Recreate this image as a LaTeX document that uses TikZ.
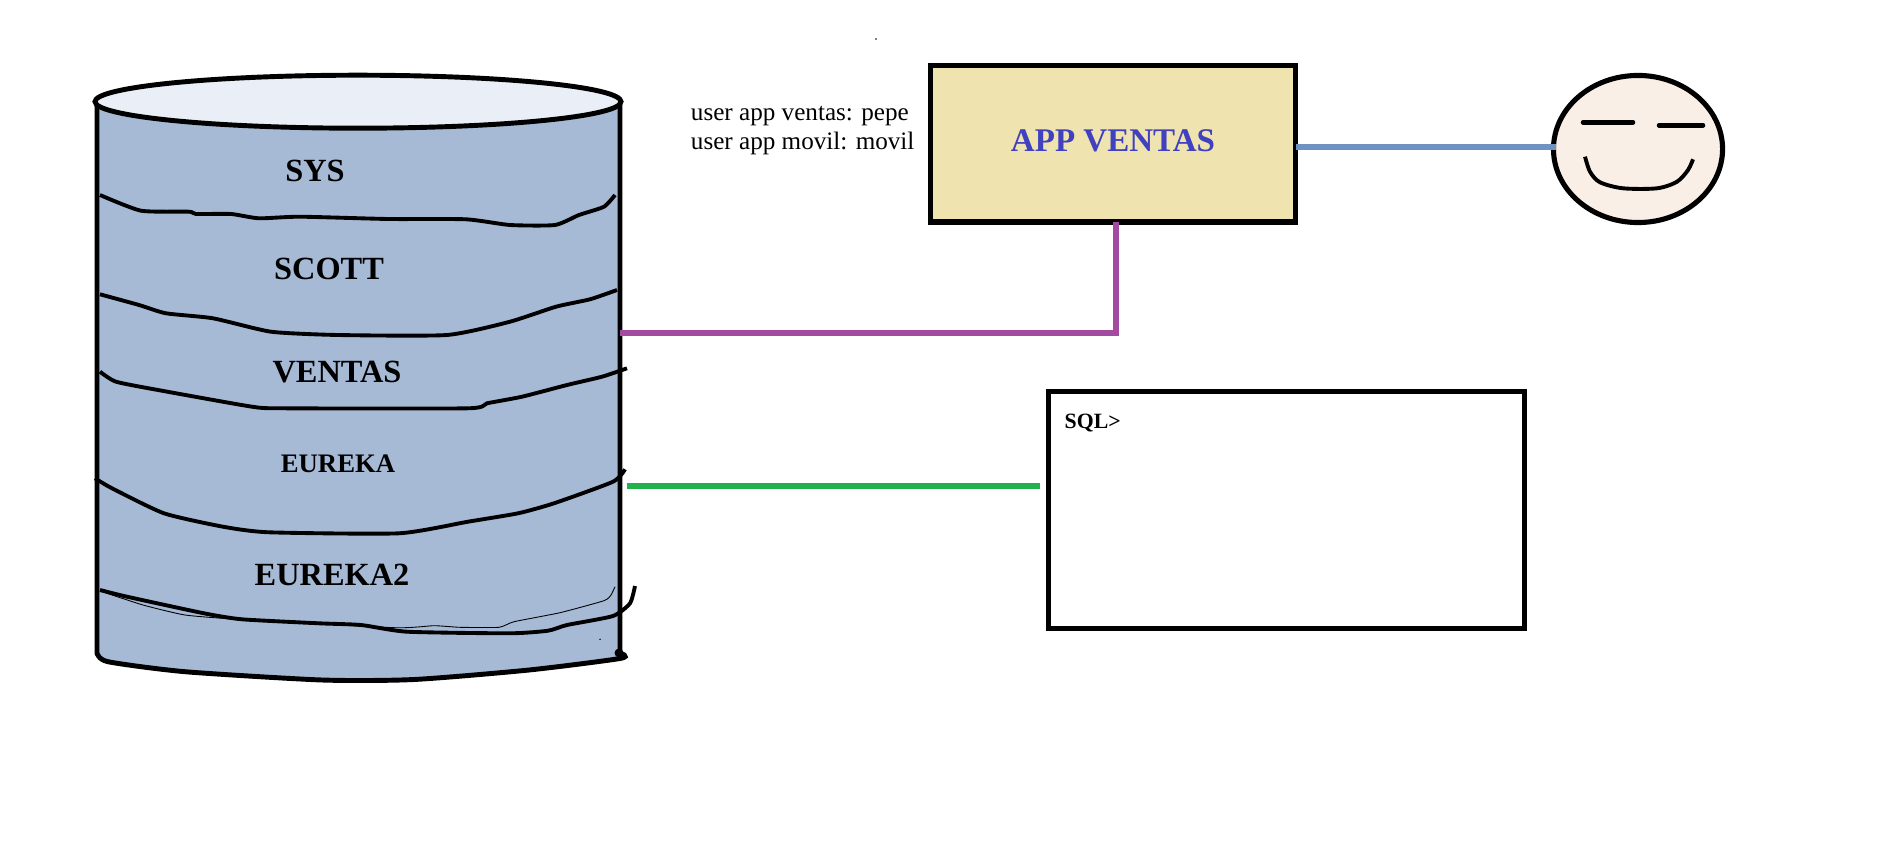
\documentclass[tikz,border=0pt]{standalone}
\usepackage{fontspec}
\setmainfont{Liberation Serif}
\usetikzlibrary{shapes.geometric,positioning,calc}
\definecolor{dbblue}{HTML}{A6BAD6}
\definecolor{dbtopfill}{HTML}{EAEEF6}
\definecolor{appfill}{HTML}{EFE3AF}
\definecolor{apptext}{HTML}{4040C0}
\definecolor{facefill}{HTML}{F9EFE6}
\definecolor{linkblue}{HTML}{7092C0}
\definecolor{linkpurple}{HTML}{A24BA0}
\definecolor{linkgreen}{HTML}{22B14C}

\begin{document}
\begin{tikzpicture}[
    x=0.01cm, y=-0.01cm,
    box/.style={rectangle, draw, line width=1.45pt, outer sep=0pt},
    schema/.style={font=\bfseries\fontsize{9.2}{11}\selectfont, inner sep=0pt},
    layer/.style={line width=1.1pt, smooth, tension=0.35},
    link/.style={line width=1.45pt}
]
    \useasboundingbox (0,0) rectangle (1889,849);

    \node[ellipse, minimum width=5.28cm, minimum height=0.53cm, inner sep=0pt, outer sep=0pt] (dbtop) at (358,101.7) {};
    \coordinate (dbbottomleft) at (97,653);
    \coordinate (dbbottomright) at (620,653);
    \coordinate (ventasport) at (620,333);
    \coordinate (eurekaport) at (627,486);

    \draw[line width=1.4pt, fill=dbblue] (97,102) -- (dbbottomleft)
        -- plot[smooth, tension=0.4] coordinates {(dbbottomleft) (108,661.7) (185,671.7) (322,680) (414,679.5) (529,670) (621,658.3) (dbbottomright)}
        -- (620,102) -- cycle;
    \fill (dbbottomright) ++(-1,0) circle (4.5);
    \draw[line width=1.4pt, fill=dbtopfill] (dbtop) ellipse (263 and 26.5);

    \draw[layer] plot coordinates {(100,195) (141,210.7) (189,211.7) (196,214) (231,214) (259,218.3) (300,216.7) (388,219) (466,219.3) (510,225) (555,225) (579,215) (604,206.7) (615,195)};
    \draw[layer] plot coordinates {(100,294.3) (139,305) (166,313.3) (213,318.3) (271,331.7) (338,335) (447,335) (510,321.7) (556,306.7) (590,299.3) (617,290)};
    \draw[layer] plot coordinates {(100,371.7) (116,381.7) (158,390) (252,406.7) (284,408.3) (468,408.3) (487,403.3) (522,396.7) (567,385) (602,376.7) (627,368.3)};
    \draw[layer] plot coordinates {(95,478.3) (112,488.3) (164,513.3) (223,526.7) (269,532.3) (399,533.3) (468,521.7) (518,513.3) (554,503.3) (613,481.7) (625,469.3)};
    \draw[layer] plot coordinates {(100,590) (127,596.7) (204,613.3) (242,619.3) (319,623.3) (361,625) (407,631.7) (510,633.3) (548,630.7) (567,625) (613,616) (630,603.3) (635,586)};
    \draw[line width=0.25pt] plot[smooth, tension=0.3] coordinates {(100,591) (143,605) (185,615) (238,619.3) (395,627.7) (434,625.7) (460,627.3) (499,627.3) (514,621.7) (560,612.7) (604,600.7) (611,595) (615,586.7)};
    \fill (600,639.3) circle (0.8);
    \fill (876,39) circle (0.8);

    \node[schema] (sys) at (315,171) {SYS};
    \node[schema] (scott) at (329,269) {SCOTT};
    \node[schema] (ventas) at (337,372) {VENTAS};
    \node[schema, font=\bfseries\fontsize{7.6}{9}\selectfont] (eureka) at (338,464) {EUREKA};
    \node[schema] (eureka2) at (332,575) {EUREKA2};

    \node[box, fill=appfill, minimum width=3.655cm, minimum height=1.56cm, font=\bfseries\fontsize{9.4}{11}\selectfont, text=apptext] (app) at (1113,144) {\raisebox{1.9pt}{APP VENTAS}};
    \node[left=0.15cm of app, yshift=0.135cm, align=left, inner sep=0pt, font=\fontsize{7.15}{8.3}\selectfont] (users) {user app ventas: pepe\\user app movil: movil};

    \node[ellipse, draw, line width=1.45pt, fill=facefill, minimum width=1.69cm, minimum height=1.47cm, inner sep=0pt, outer sep=0pt] (face) at (1638,149) {};
    \draw[line width=1.3pt, line cap=round] (1583,122.3) -- (1633,122.3);
    \draw[line width=1.3pt, line cap=round] (1659,125.3) -- (1703,125.3);
    \draw[line width=1.1pt, smooth, tension=0.5] plot coordinates {(1585,156.7) (1590,171.7) (1600,182.3) (1623,188.3) (1657,188.3) (1677,181.7) (1688,170) (1693,159.3)};

    \node[box, fill=white, minimum width=4.76cm, minimum height=2.37cm] (sql) at (1286.5,510) {};
    \node[font=\bfseries\fontsize{6.2}{8}\selectfont, anchor=base west, inner sep=0pt] (prompt) at (1064,428) {SQL>};

    \draw[link, linkblue] ([yshift=0.02cm]face.west -| app.east) -- ([xshift=0.03cm,yshift=0.02cm]face.west);
    \draw[link, linkpurple] ([xshift=0.03cm]app.south) |- (ventasport);
    \draw[link, linkgreen, shorten >=0.08cm] (eurekaport) -- (eurekaport -| sql.west);
\end{tikzpicture}
\end{document}
